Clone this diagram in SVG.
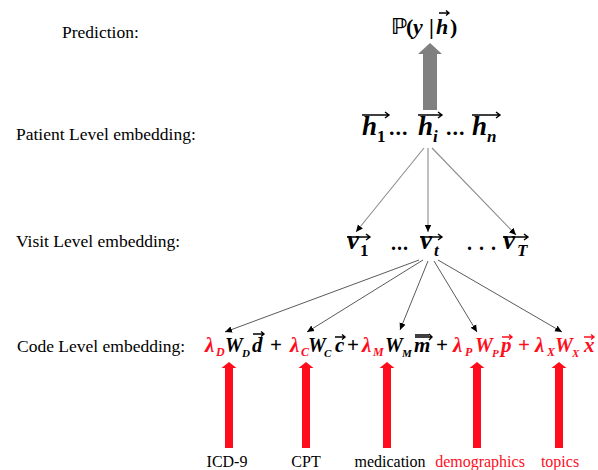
<svg xmlns="http://www.w3.org/2000/svg" width="598" height="470" viewBox="0 0 598 470">
<defs>
<marker id="ah" markerWidth="8" markerHeight="8" refX="7" refY="4" orient="auto" markerUnits="userSpaceOnUse"><path d="M0,0.8 L7,4 L0,7.2 Z" fill="#000"/></marker>
<symbol id="redArrow" overflow="visible"><polygon points="0,0 7.5,6 4,6 4,86 -4,86 -4,6 -7.5,6" fill="#ff0d1d"/></symbol>
<style>
.lbl{font-size:17.5px;fill:#000}
.src{font-size:16px;text-anchor:middle}
.m{font-style:italic;font-weight:bold;fill:#000}
.n{font-style:normal;font-weight:bold;fill:#000}
.red{fill:#ff0d1d}
.vec{stroke:#000;stroke-width:1.4;fill:none}
.vecr{stroke:#ff0d1d;stroke-width:1.4;fill:none}
.c1{stroke:#8c8c8c;stroke-width:1.1;fill:none}
.c2{stroke:#5a5a5a;stroke-width:1;fill:none}
</style>
</defs>
<rect width="598" height="470" fill="#fff"/>

<g id="labels" font-family="Liberation Serif, serif">
<text class="lbl" x="62" y="38">Prediction:</text>
<text class="lbl" x="16" y="140">Patient Level embedding:</text>
<text class="lbl" x="16" y="247">Visit Level embedding:</text>
<text class="lbl" x="17" y="352">Code Level embedding:</text>
</g>

<g id="prediction" font-family="Liberation Serif, DejaVu Serif, serif">
<text y="34" font-size="22"><tspan class="n" x="391" font-weight="normal" font-family="DejaVu Serif, DejaVu Sans, serif">ℙ</tspan><tspan class="n" x="406" font-weight="normal">(</tspan><tspan class="m" x="413" font-weight="normal">y</tspan><tspan class="n" x="429" font-weight="normal">|</tspan><tspan class="m" x="436" font-weight="normal">h</tspan><tspan class="n" x="450" font-weight="normal">)</tspan></text>
<path class="vec" d="M439,13 H449 M446,10.5 L449,13 L446,15.5"/>
</g>

<g id="patient" font-family="Liberation Serif, serif">
<text y="135" font-size="27"><tspan class="m" x="362">h</tspan><tspan class="n" x="377" y="142" font-size="17" font-weight="normal">1</tspan><tspan class="n" x="389" y="135" font-size="22" letter-spacing="1">...</tspan><tspan class="m" x="418">h</tspan><tspan class="m" x="433" y="142" font-size="17">i</tspan><tspan class="n" x="446" y="135" font-size="22" letter-spacing="1">...</tspan><tspan class="m" x="472">h</tspan><tspan class="m" x="487" y="142" font-size="17">n</tspan></text>
<path class="vec" d="M362,115 H389 M385,112 L389,115 L385,118 M418,115 H442 M438,112 L442,115 L438,118 M472,115 H500 M496,112 L500,115 L496,118"/>
</g>

<g id="visit" font-family="Liberation Serif, serif">
<text y="249" font-size="27"><tspan class="m" x="347">v</tspan><tspan class="n" x="360" y="256" font-size="17" font-weight="normal">1</tspan><tspan class="n" x="391" y="250" font-size="20" letter-spacing="1">...</tspan><tspan class="m" x="420" y="249">v</tspan><tspan class="m" x="434" y="256" font-size="17">t</tspan><tspan class="n" x="467" y="250" font-size="20" letter-spacing="1">. . .</tspan><tspan class="m" x="503" y="249">v</tspan><tspan class="m" x="517" y="256" font-size="17">T</tspan></text>
<path class="vec" d="M347,237 H370 M366,234 L370,237 L366,240 M420,237 H442 M438,234 L442,237 L438,240 M503,237 H528 M524,234 L528,237 L524,240"/>
</g>

<g id="code" font-family="Liberation Serif, serif">
<text y="352" font-size="21">
<tspan class="m red" x="205">λ</tspan><tspan class="m red" x="216" y="356" font-size="12">D</tspan>
<tspan class="m" x="225" y="352" font-size="20">W</tspan><tspan class="m" x="242" y="357" font-size="11">D</tspan>
<tspan class="m" x="252" y="352">d</tspan>
<tspan class="n" x="270" y="352">+</tspan>
<tspan class="m red" x="290">λ</tspan><tspan class="m red" x="301" y="356" font-size="12">C</tspan>
<tspan class="m" x="308" y="352" font-size="20">W</tspan><tspan class="m" x="324" y="357" font-size="11">C</tspan>
<tspan class="m" x="335" y="352">c</tspan>
<tspan class="n" x="347" y="352">+</tspan>
<tspan class="m red" x="362">λ</tspan><tspan class="m red" x="373" y="356" font-size="12">M</tspan>
<tspan class="m" x="385" y="352" font-size="20">W</tspan><tspan class="m" x="402" y="357" font-size="11">M</tspan>
<tspan class="m" x="414" y="352">m</tspan>
<tspan class="n" x="436" y="352">+</tspan>
<tspan class="m red" x="453">λ</tspan><tspan class="m red" x="465" y="356" font-size="12">P</tspan>
<tspan class="m red" x="475" y="352" font-size="20">W</tspan><tspan class="m red" x="492" y="357" font-size="11">P</tspan>
<tspan class="m red" x="501" y="352">p</tspan>
<tspan class="n red" x="518" y="352">+</tspan>
<tspan class="m red" x="535">λ</tspan><tspan class="m red" x="547" y="356" font-size="12">X</tspan>
<tspan class="m red" x="555" y="352" font-size="20">W</tspan><tspan class="m red" x="572" y="357" font-size="11">X</tspan>
<tspan class="m red" x="584" y="352">x</tspan>
</text>
<path class="vec" d="M253,334 H264 M261,331.5 L264,334 L261,336.5 M335,337 H345 M342,334.5 L345,337 L342,339.5 M415,337 H432 M415,335 H429 M429,334 L432,337 L429,340"/>
<path class="vecr" d="M502,337 H512 M509,334.5 L512,337 L509,339.5 M584,337 H594 M591,334.5 L594,337 L591,339.5"/>
</g>

<g id="gray-arrow">
<polygon points="430,43 442,54 437,54 437,110 423,110 423,54 418,54" fill="#808080"/>
</g>

<g id="connectors">
<path class="c1" d="M424,148 L356,232" marker-end="url(#ah)"/>
<path class="c1" d="M428,148 L428,232" marker-end="url(#ah)"/>
<path class="c1" d="M432,148 L516,235" marker-end="url(#ah)"/>
<path class="c2" d="M419,260 L225,332" marker-end="url(#ah)"/>
<path class="c2" d="M423,260 L307,332" marker-end="url(#ah)"/>
<path class="c2" d="M428,261 L400,330" marker-end="url(#ah)"/>
<path class="c2" d="M434,261 L477,332" marker-end="url(#ah)"/>
<path class="c2" d="M438,260 L562,332" marker-end="url(#ah)"/>
</g>

<g id="sources" font-family="Liberation Serif, serif">
<use href="#redArrow" x="229" y="362"/>
<use href="#redArrow" x="306" y="362"/>
<use href="#redArrow" x="387" y="362"/>
<use href="#redArrow" x="477" y="362"/>
<use href="#redArrow" x="559" y="362"/>
<text class="src" x="227" y="467">ICD-9</text>
<text class="src" x="306" y="467">CPT</text>
<text class="src" x="390" y="467">medication</text>
<text class="src red" x="480" y="467">demographics</text>
<text class="src red" x="560" y="467">topics</text>
</g>
</svg>
